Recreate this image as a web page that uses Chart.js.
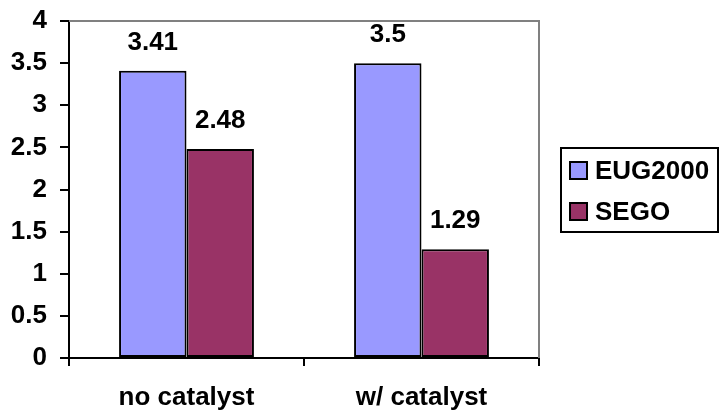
<!DOCTYPE html>
<html>
<head>
<meta charset="utf-8">
<script src="https://cdn.jsdelivr.net/npm/chart.js@4/dist/chart.umd.min.js"></script>
<style>
  html, body { margin: 0; padding: 0; background: #ffffff; }
  #wrap { width: 720px; height: 416px; position: relative; }
</style>
</head>
<body>
<div id="wrap"><canvas id="chart" width="720" height="416"></canvas></div>
<script>
// Categories, series and axis ticks
const categories = ['no catalyst', 'w/ catalyst'];
const seriesNames = ['EUG2000', 'SEGO'];
const eug2000 = [3.41, 3.5];
const sego = [2.48, 1.29];
const yTicks = [0, 0.5, 1, 1.5, 2, 2.5, 3, 3.5, 4];

const seriesColors = ['#9999FF', '#993366'];
const FONT = '"Liberation Sans", Arial, sans-serif';
const TEXT_SIZE = 26;

// Value labels above each bar
const valueLabels = {
  id: 'valueLabels',
  afterDatasetsDraw(chart) {
    const ctx = chart.ctx;
    ctx.save();
    ctx.font = 'bold ' + TEXT_SIZE + 'px ' + FONT;
    ctx.fillStyle = '#000000';
    ctx.textAlign = 'center';
    ctx.textBaseline = 'alphabetic';
    chart.data.datasets.forEach((ds, i) => {
      chart.getDatasetMeta(i).data.forEach((bar, j) => {
        ctx.fillText(String(ds.data[j]), bar.x, bar.y - 21);
      });
    });
    ctx.restore();
  }
};

// Grey frame on the top and right of the plot area
const plotFrame = {
  id: 'plotFrame',
  beforeDatasetsDraw(chart) {
    const { ctx, chartArea: a } = chart;
    ctx.save();
    ctx.strokeStyle = '#808080';
    ctx.lineWidth = 2;
    ctx.beginPath();
    ctx.moveTo(a.left, a.top);
    ctx.lineTo(a.right, a.top);
    ctx.lineTo(a.right, a.bottom);
    ctx.stroke();
    ctx.restore();
  }
};

// Boxed legend to the right of the plot
const boxLegend = {
  id: 'boxLegend',
  afterDraw(chart) {
    const ctx = chart.ctx;
    const left = 561, top = 148, right = 718, bottom = 232;
    ctx.save();
    ctx.strokeStyle = '#000000';
    ctx.lineWidth = 2;
    ctx.strokeRect(left, top, right - left, bottom - top);
    ctx.font = 'bold ' + TEXT_SIZE + 'px ' + FONT;
    ctx.textBaseline = 'alphabetic';
    ctx.textAlign = 'left';
    chart.data.datasets.forEach((ds, i) => {
      const cy = 170 + i * 41;
      ctx.fillStyle = ds.backgroundColor;
      ctx.fillRect(570, cy - 8, 17, 17);
      ctx.lineWidth = 2;
      ctx.strokeStyle = '#000000';
      ctx.strokeRect(570, cy - 8, 17, 17);
      ctx.fillStyle = '#000000';
      ctx.fillText(ds.label, 595, cy + 9);
    });
    ctx.restore();
  }
};

new Chart(document.getElementById('chart'), {
  type: 'bar',
  data: {
    labels: categories,
    datasets: [
      { label: seriesNames[0], data: eug2000, backgroundColor: seriesColors[0] },
      { label: seriesNames[1], data: sego, backgroundColor: seriesColors[1] }
    ].map(d => Object.assign(d, {
      borderColor: '#000000',
      borderWidth: 2,
      borderSkipped: false,
      categoryPercentage: 0.574,
      barPercentage: 1
    }))
  },
  options: {
    responsive: false,
    animation: false,
    devicePixelRatio: 1,
    layout: { padding: { left: 0, right: 181, top: 21, bottom: 0 } },
    plugins: {
      legend: { display: false },
      tooltip: { enabled: false }
    },
    scales: {
      x: {
        offset: true,
        border: { display: true, color: '#000000', width: 2 },
        grid: {
          offset: true,
          display: true,
          drawOnChartArea: false,
          drawTicks: true,
          tickLength: 8,
          color: '#000000',
          lineWidth: 2
        },
        ticks: {
          color: '#000000',
          font: { family: FONT, size: TEXT_SIZE, weight: 'bold' },
          padding: 16,
          maxRotation: 0
        },
        afterFit(scale) {
          scale.height = 58;
          scale.paddingLeft = 0;
          scale.paddingRight = 0;
        }
      },
      y: {
        min: 0,
        max: 4,
        afterBuildTicks(scale) { scale.ticks = yTicks.map(v => ({ value: v })); },
        border: { display: true, color: '#000000', width: 2 },
        grid: {
          display: true,
          drawOnChartArea: false,
          drawTicks: true,
          tickLength: 9,
          color: '#000000',
          lineWidth: 2
        },
        ticks: {
          color: '#000000',
          font: { family: FONT, size: TEXT_SIZE, weight: 'bold' },
          padding: 13,
          callback: v => String(v)
        },
        afterFit(scale) {
          scale.width = 69;
          scale.paddingTop = 0;
          scale.paddingBottom = 0;
        }
      }
    }
  },
  plugins: [plotFrame, valueLabels, boxLegend]
});
</script>
</body>
</html>
